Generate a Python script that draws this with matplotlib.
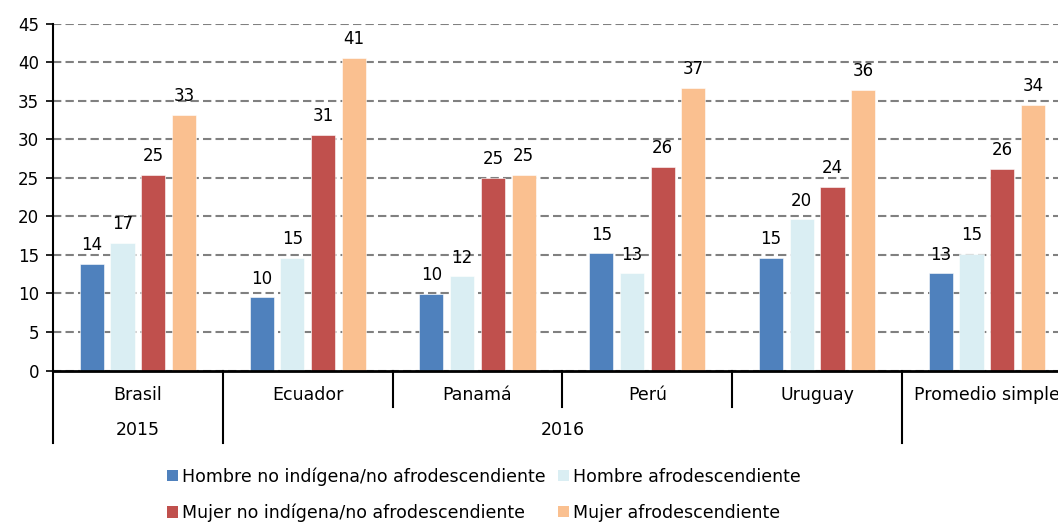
import matplotlib
matplotlib.use("Agg")
import matplotlib.pyplot as plt
import matplotlib.transforms as mtransforms
from matplotlib.patches import Patch
import numpy as np

plt.rcParams['font.family'] = ['DejaVu Sans']

countries = ["Brasil", "Ecuador", "Panamá", "Perú", "Uruguay", "Promedio simple"]
years = ["2015", "2016", "2016", "2016", "2016", ""]
series_names = [
    "Hombre no indígena/no afrodescendiente",
    "Hombre afrodescendiente",
    "Mujer no indígena/no afrodescendiente",
    "Mujer afrodescendiente",
]
hombre_no_ind = [13.8, 9.5, 9.9, 15.2, 14.6, 12.6]
hombre_afro = [16.6, 14.6, 12.2, 12.6, 19.6, 15.1]
mujer_no_ind = [25.4, 30.6, 25.0, 26.4, 23.8, 26.2]
mujer_afro = [33.2, 40.6, 25.4, 36.7, 36.4, 34.5]
series_values = [hombre_no_ind, hombre_afro, mujer_no_ind, mujer_afro]
colors = ["#4F81BD", "#DAEEF3", "#C0504D", "#FAC090"]
yticks = [0, 5, 10, 15, 20, 25, 30, 35, 40, 45]

W, H = 1058, 522
fig = plt.figure(figsize=(W / 100, H / 100), dpi=100)
x0, y0, x1, y1 = 53, 370.5, 1071.8, 23.7
ax = fig.add_axes([x0 / W, (H - y0) / H, (x1 - x0) / W, (y0 - y1) / H])

FS = 12
FS_CAT = 12.5
n = len(countries)
x = np.arange(n)
pitch, bw = 0.181, 0.142
for j, (vals, c) in enumerate(zip(series_values, colors)):
    pos = x + (j - 1.5) * pitch
    ax.bar(pos, vals, width=bw, color=c, edgecolor='white', linewidth=0.4, zorder=3)
    for px, v in zip(pos, vals):
        ax.annotate(f"{v:.0f}", (px, v), xytext=(0, 7), textcoords='offset points',
                    ha='center', va='bottom', fontsize=FS, color='black', zorder=4)

ax.set_xlim(-0.5, n - 0.5)
ax.set_ylim(0, 45)
ax.set_yticks(yticks)
ax.set_yticklabels([str(t) for t in yticks], fontsize=FS)
ax.tick_params(axis='y', length=5, width=1.2, direction='out', pad=5, colors='black')
ax.set_xticks([])
ax.yaxis.grid(True, linestyle=(0, (4, 2)), color='#808080', linewidth=1.5, zorder=0)
ax.set_axisbelow(True)
for s in ['top', 'right']:
    ax.spines[s].set_visible(False)
ax.spines['left'].set_linewidth(1.5)
ax.spines['bottom'].set_linewidth(2)
ax.spines['bottom'].set_zorder(5)

ph = y0 - y1
trans = mtransforms.blended_transform_factory(ax.transData, ax.transAxes)
y_country_div = -(406.7 - y0) / ph
y_full_div = -(443.3 - y0) / ph
y_country_lab = -(395 - y0) / ph
y_year_lab = -(430 - y0) / ph

for i, c in enumerate(countries):
    ax.text(i, y_country_lab, c, transform=trans, ha='center', va='center', fontsize=FS_CAT)
groups = []
start = 0
for i in range(1, n + 1):
    if i == n or years[i] != years[start]:
        groups.append((start, i - 1, years[start]))
        start = i
group_bounds = set()
for a, b, yr in groups:
    group_bounds.add(a - 0.5)
    if yr:
        ax.text((a + b) / 2, y_year_lab, yr, transform=trans, ha='center', va='center', fontsize=FS_CAT)
for i in range(n):
    xb = i - 0.5
    yb = y_full_div if xb in group_bounds else y_country_div
    ax.plot([xb, xb], [0, yb], transform=trans, color='black', lw=1.5, clip_on=False, zorder=5)

handles = [Patch(facecolor=c, edgecolor='none') for c in colors]
order = [0, 2, 1, 3]
leg = fig.legend([handles[k] for k in order], [series_names[k] for k in order],
                 ncol=2, loc='upper left', bbox_to_anchor=(167 / W, 1 - 467 / H),
                 frameon=False, fontsize=FS_CAT, handlelength=0.63, handleheight=0.63,
                 handletextpad=0.25, columnspacing=0.7, labelspacing=1.05,
                 borderaxespad=0, borderpad=0)

fig.savefig("out.png", dpi=100)
